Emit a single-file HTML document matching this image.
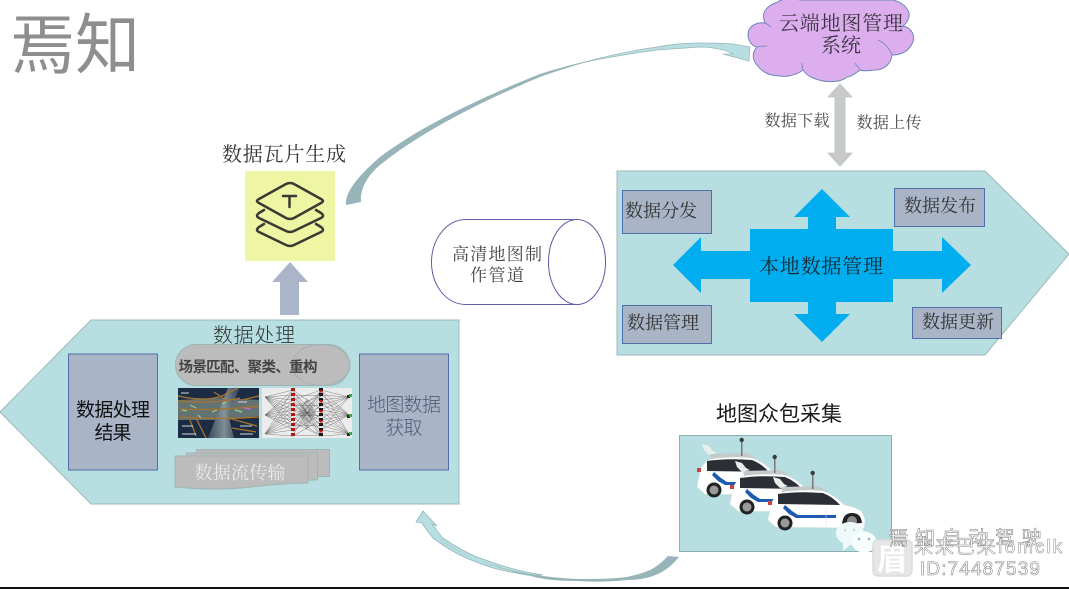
<!DOCTYPE html>
<html lang="zh">
<head>
<meta charset="utf-8">
<title>高精地图众包制作流程</title>
<style>
html,body{margin:0;padding:0;background:#fff;width:1069px;height:589px;overflow:hidden}
svg{display:block}
text{font-family:"Liberation Serif","Noto Serif CJK SC",serif;fill:#333;text-anchor:middle}
.s{font-family:"Liberation Sans","Noto Sans CJK SC",sans-serif}
</style>
</head>
<body>
<svg width="1069" height="589" viewBox="0 0 1069 589" xmlns="http://www.w3.org/2000/svg">
<defs>
<linearGradient id="road" x1="0" y1="0" x2="1" y2="0"><stop offset="0" stop-color="#3d5160"/><stop offset=".5" stop-color="#8b989e"/><stop offset="1" stop-color="#2b3f55"/></linearGradient>
<g id="car">
  <path d="M13 -3 L50 -4 L60 1 L14 2 Z" fill="#c4c9c9"/>
  <path d="M5 -13 L12 -11 L16 -6 L20 -4 L12 -2 L7 -7 Z" fill="#e8eded"/>
  <rect x="44" y="-16" width="1.500" height="15" fill="#777"/><circle cx="44.700" cy="-17" r="2.200" fill="#3a3a3a"/>
  <path d="M0 30 L3 15 Q6 5 14 2 Q35 -1 55 1 Q68 6 76 15 Q88 17 94 22 L97 30 L96 38 L8 37 Z" fill="#fff" stroke="#e2e8e8" stroke-width=".5"/>
  <path d="M10 4 L10 14 L72 15 Q65 7 55 3 Q30 1 10 4 Z" fill="#2b2f35"/>
  <rect x="0" y="11" width="4" height="4" fill="#c9443f"/>
  <path d="M17 15 L24 21 L30 25 L68 25 V28 L28 28 L21 24 L15 18 Z" fill="#1c5bb0"/>
  <path d="M58 18 V36" stroke="#dfe3e3" stroke-width=".6"/>
  <circle cx="17" cy="33" r="7.500" fill="#222"/><circle cx="17" cy="33" r="4.500" fill="#9a9a9a"/>
  <path d="M74 34 Q75 23 84 23 Q93 23 94 33 Z" fill="#222"/><circle cx="84" cy="31" r="5" fill="#8a8a8a"/>
</g>
</defs>

<rect width="1069" height="589" fill="#fff"/>
<rect x="0" y="587" width="1069" height="2" fill="#111"/>

<!-- top-left mark -->
<text x="75" y="68" font-size="66" style="fill:#8e8e8e;font-family:'Noto Sans CJK SC',sans-serif;font-weight:400" textLength="130" lengthAdjust="spacingAndGlyphs">焉知</text>

<!-- top curved arrow -->
<path d="M346 205 C345 196 351 182 380 157 C420 127 475 100 540 74 C562 67 585 61 607 57 C585 62 562 69 540 77 C475 104 420 133 380 165 C366 177 360 190 361 202 Z" fill="#97b5b8"/>
<path d="M585 62 C610 55 635 50 657 47 C672 44 686 43 700 43 C712 43 723 43 733 44 C739 45 745 46 750 47 L749 61 L723 54 L733 54 C730 52 726 51 723 50 C715 48 708 47 700 47 C686 48 672 49 657 50 C635 53 610 57 585 62 Z" fill="#b7dfe2" stroke="#97b5b8" stroke-width=".7"/>

<!-- bottom curved arrow -->
<path d="M423 511 L437 526 L432 524 C436 529 439 534 443 538 C453 545 465 552 477 557 C488 561 499 565 510 568 C520 571 530 573 543 575 L527 575 C515 573 504 571 493 568 C481 564 470 560 460 555 C450 550 441 544 433 538 C429 533 425 528 422 523 L416 522 Z" fill="#b7dfe2" stroke="#97b5b8" stroke-width=".8"/>
<path d="M438 537 C455 552 480 562 510 570 C530 575 555 578 577 579 C595 579 612 579 627 577 C636 575 643 573 650 570 C658 566 663 561 668 556 L679 557 C674 563 668 569 660 573 C650 578 640 580 627 580 C610 582 593 582 577 581 C555 581 540 579 527 575 C495 568 460 555 438 537 Z" fill="#97b5b8"/>

<!-- left panel -->
<polygon points="0,412 91,320 459,320 459,504 91,504" fill="#b7dfe2" stroke="#9db9bc" stroke-width="1"/>
<rect x="68.500" y="354" width="89" height="116" fill="#a9b4c7" stroke="#4f6fa8" stroke-width="1"/>
<rect x="359.500" y="354" width="89" height="116" fill="#a9b4c7" stroke="#4f6fa8" stroke-width="1"/>
<text x="113" y="416" font-size="19" style="fill:#111;font-family:'Noto Sans CJK SC',sans-serif;font-weight:400" textLength="74">数据处理</text>
<text x="113" y="439" font-size="19" style="fill:#111;font-family:'Noto Sans CJK SC',sans-serif;font-weight:400" textLength="37">结果</text>
<text x="404" y="411" font-size="19" style="fill:#4c5f78;font-family:'Noto Sans CJK SC',sans-serif;font-weight:300" textLength="74">地图数据</text>
<text x="404" y="434" font-size="19" style="fill:#4c5f78;font-family:'Noto Sans CJK SC',sans-serif;font-weight:300" textLength="37">获取</text>
<text x="254" y="342" font-size="20" style="fill:#333;font-family:'Noto Sans CJK SC',sans-serif;font-weight:300" textLength="82">数据处理</text>

<!-- capsule -->
<rect x="175.500" y="344.500" width="174" height="41" rx="20.500" fill="#bcbcbc" stroke="#9fb4b5"/>
<ellipse cx="321" cy="365" rx="29" ry="20.500" fill="none" stroke="#9fb4b5"/>
<text x="248" y="372" font-size="14.500" style="fill:#444;font-family:'Noto Sans CJK SC',sans-serif;font-weight:700" textLength="139">场景匹配、聚类、重构</text>

<!-- point cloud image -->
<rect x="178" y="388" width="81" height="50" fill="#1c2c44"/>
<path d="M178 400 L222 398 L259 400 L259 416 L224 420 L178 420 Z" fill="#76857f" opacity=".8"/>
<path d="M208 438 L228 388 L240 388 L228 414 L234 438 Z" fill="url(#road)" opacity=".9"/>
<path d="M178 396 Q205 402 222 396 L238 388 M242 400 L259 396 M178 401 Q215 404 240 398 M180 409 Q215 411 259 406 M180 417 Q220 420 259 417 M196 418 L206 438 M190 420 L196 436 M228 418 L257 426 M232 428 L256 432 M214 392 L226 400" stroke="#a8732c" stroke-width="1.300" fill="none"/>
<path d="M190 405 l6 3 M212 412 l5 -2 M235 410 l7 2 M198 415 l3 3 M182 410 l5 1 M222 404 l4 -2" stroke="#8fd08a" stroke-width="1.200"/>
<path d="M244 408 l7 1" stroke="#c86ac8" stroke-width="1.200"/>
<path d="M181 393 h8 M182 426 h11 M182 434 h14 M240 426 h12 M240 434 h13 M238 402 h9" stroke="#cfd6dc" stroke-width="1"/>

<!-- network image -->
<rect x="262" y="388" width="90" height="50" fill="#ececec"/>
<g stroke="#555" stroke-width=".35" fill="none">
<path d="M265 397 L293 390 M265 397 L293 395 M265 397 L293 400 M265 397 L293 405 M265 397 L293 410 M265 397 L293 415 M265 397 L293 420 M265 397 L293 425 M265 397 L293 430 M265 415 L293 390 M265 415 L293 395 M265 415 L293 400 M265 415 L293 405 M265 415 L293 410 M265 415 L293 415 M265 415 L293 420 M265 415 L293 425 M265 415 L293 430 M265 434 L293 390 M265 434 L293 400 M265 434 L293 405 M265 434 L293 410 M265 434 L293 415 M265 434 L293 420 M265 434 L293 425 M265 434 L293 430 M265 434 L293 436"/>
<path d="M293 390 L321 436 M293 395 L321 431 M293 400 L321 426 M293 405 L321 421 M293 410 L321 416 M293 415 L321 411 M293 420 L321 406 M293 425 L321 401 M293 430 L321 396 M293 435 L321 391 M293 390 L321 410 M293 400 L321 390 M293 410 L321 430 M293 420 L321 395 M293 430 L321 415 M293 436 L321 420 M293 395 L321 396 M293 405 L321 406 M293 415 L321 416 M293 425 L321 426 M293 435 L321 436 M293 392 L321 420 M293 402 L321 436 M293 412 L321 392 M293 422 L321 436 M293 432 L321 405 M293 397 L321 426 M293 407 L321 396 M293 417 L321 436 M293 427 L321 390"/>
<path d="M321 390 L349 397 M321 395 L349 397 M321 400 L349 397 M321 405 L349 397 M321 410 L349 397 M321 420 L349 397 M321 430 L349 397 M321 390 L349 415 M321 395 L349 415 M321 400 L349 415 M321 405 L349 415 M321 410 L349 415 M321 415 L349 415 M321 420 L349 415 M321 425 L349 415 M321 430 L349 415 M321 390 L349 434 M321 400 L349 434 M321 410 L349 434 M321 415 L349 434 M321 420 L349 434 M321 425 L349 434 M321 430 L349 434 M321 436 L349 434"/>
</g>
<path d="M307 398 L316 412 L307 430 L298 412 Z" fill="#333" opacity=".22"/>
<path d="M293 388 V438" stroke="#b01818" stroke-width="4" stroke-dasharray="3 2"/>
<path d="M321 388 V438" stroke="#1a1a1a" stroke-width="4" stroke-dasharray="3 2"/>
<path d="M321 390 V438" stroke="#c01818" stroke-width="3" stroke-dasharray="2.500 7.500"/>
<rect x="347" y="395" width="3" height="3" fill="#222"/><rect x="349" y="394" width="3" height="3" fill="#2bb52b"/>
<rect x="347" y="415" width="3" height="3" fill="#222"/><rect x="349" y="414" width="3" height="3" fill="#2bb52b"/>
<rect x="347" y="433" width="3" height="3" fill="#222"/><rect x="349" y="432" width="3" height="3" fill="#2bb52b"/>

<!-- document stack -->
<rect x="196.500" y="449.500" width="133" height="27" fill="#bcbcbc" stroke="#9fb4b5"/>
<rect x="186.500" y="453" width="131" height="27" fill="#bcbcbc" stroke="#9fb4b5"/>
<path d="M175 456 H308 V483 C270 483 245 490 210 489 C195 489 185 488 175 487 Z" fill="#bcbcbc" stroke="#9fb4b5"/>
<text x="240" y="479" font-size="18" style="fill:#e9e9e9" textLength="91">数据流传输</text>

<!-- up arrow -->
<polygon points="290,262 308,282 299,282 299,315 280,315 280,282 272,282" fill="#aab5c9"/>

<!-- tile box -->
<text x="284" y="161" font-size="20" style="fill:#333" textLength="124">数据瓦片生成</text>
<rect x="245" y="171" width="90" height="90" fill="#eef6a4"/>
<g fill="none" stroke="#3a3a34" stroke-width="2.500" stroke-linejoin="round" stroke-linecap="round">
<path d="M286 184 Q290 182 294 184 L321 199 Q325 201 321 203 L294 218 Q290 220 286 218 L259 203 Q255 201 259 199 Z"/>
<path d="M264 210 L259 213 Q255 216 259 218 L286 231 Q290 233 294 231 L321 218 Q325 216 321 213 L316 210"/>
<path d="M264 224 L259 227 Q255 230 259 232 L286 245 Q290 247 294 245 L321 232 Q325 230 321 227 L316 224"/>
<path d="M283 196 H296 M289.500 196 V207"/>
</g>

<!-- pipe -->
<path d="M577 219.500 H466 C446 219.500 431.500 240 431.500 262 C431.500 285 446 304.500 466 304.500 H577" fill="#fff" stroke="#5c5ca8" stroke-width="1"/>
<ellipse cx="577" cy="262" rx="28.500" ry="42.500" fill="#fff" stroke="#5c5ca8" stroke-width="1"/>
<text x="497" y="260" font-size="17" style="fill:#444" textLength="90">高清地图制</text>
<text x="497" y="281" font-size="17" style="fill:#444" textLength="54">作管道</text>

<!-- cloud -->
<path d="M765 23 C760 12 768 5 778 2 C782 -2 795 -2 800 0 L893 0 C905 3 912 12 908 20 C906 23 905 25 903 26 C912 28 916 36 912 44 C908 52 900 55 892 55 C891 64 884 70 875 70 C868 71 863 71 860 70 C855 74 850 77 847 77 C840 83 825 83 813 78 C808 76 805 73 803 70 C795 76 785 77 780 76 C770 76 762 72 757 65 C752 60 752 52 757 47 C748 45 746 33 750 28 C753 24 760 22 765 23 Z" fill="#dcaeee" stroke="#6f86b8" stroke-width="1"/>
<path d="M765 23 C767 24 769 25 771 27 M757 47 C760 46 763 46 767 46 M803 70 C802 67 802 65 802 63 M878 40 C885 43 890 49 892 55 M860 70 C858 67 856 65 855 63 M903 26 C902 28 900 30 898 32" fill="none" stroke="#6f86b8" stroke-width=".8"/>
<text x="841" y="30" font-size="20" style="fill:#3a3340" textLength="124">云端地图管理</text>
<text x="841" y="52" font-size="20" style="fill:#3a3340" textLength="40">系统</text>

<!-- double arrow -->
<polygon points="840,84 852,97 845,97 845,153 852,153 840,166 828,153 835,153 835,97 828,97" fill="#c9c9c9" stroke="#b5c6c6" stroke-width=".8"/>
<text x="797" y="126" font-size="16" style="fill:#4a4a4a" textLength="65">数据下载</text>
<text x="889" y="128" font-size="16" style="fill:#4a4a4a" textLength="65">数据上传</text>

<!-- right panel -->
<polygon points="617,171 985,171 1069,254 985,355 617,355" fill="#b7dfe2" stroke="#9db9bc" stroke-width="1"/>
<polygon points="822,189 850,217 836,217 836,229 893,229 893,251 942,251 942,237 971,265 942,293 942,279 893,279 893,302 836,302 836,314 850,314 822,342 794,314 808,314 808,302 750,302 750,279 701,279 701,293 673,265 701,237 701,251 750,251 750,229 808,229 808,217 794,217" fill="#00aeef"/>
<text x="821" y="273" font-size="20" style="fill:#1a2a33" textLength="124">本地数据管理</text>
<g fill="#a9b4c7" stroke="#4f6fa8" stroke-width="1">
<rect x="622.500" y="190.500" width="89" height="43"/>
<rect x="894.500" y="188.500" width="90" height="38"/>
<rect x="622.500" y="305.500" width="89" height="38"/>
<rect x="912.500" y="307.500" width="89" height="31"/>
</g>
<text x="661" y="217" font-size="18" textLength="72" style="fill:#333">数据分发</text>
<text x="940" y="212" font-size="18" textLength="72" style="fill:#333">数据发布</text>
<text x="663" y="329" font-size="18" textLength="72" style="fill:#333">数据管理</text>
<text x="958" y="328" font-size="18" textLength="72" style="fill:#333">数据更新</text>

<!-- crowd-sourced vehicles -->
<text x="779" y="421" font-size="21" style="fill:#1a1a1a;font-family:'Noto Sans CJK SC',sans-serif;font-weight:400" textLength="126">地图众包采集</text>
<rect x="679.500" y="435.500" width="212" height="116" fill="#b7dfe2" stroke="#8fb0b3"/>
<use href="#car" transform="translate(697,457)"/>
<use href="#car" transform="translate(730,474)"/>
<use href="#car" transform="translate(768,490)"/>

<!-- watermark -->
<path d="M850 522 C858 522 864 527 864 534 C864 541 857 546 850 545 L843 551 L843 543 C838 540 836 537 836 533 C836 527 842 522 850 522 Z" fill="#f0f9fa"/>
<ellipse cx="864" cy="542" rx="12.500" ry="10.500" fill="#f7fcfc"/>
<circle cx="859" cy="539" r="1.300" fill="#9bb7ba"/><circle cx="869" cy="539" r="1.300" fill="#9bb7ba"/>
<circle cx="845" cy="530" r="1.300" fill="#c5d8da"/><circle cx="854" cy="530" r="1.300" fill="#c5d8da"/>
<rect x="873" y="540" width="39" height="36" rx="5" fill="#e6e6e6" stroke="#dcdcdc" stroke-width="1.500"/>
<text class="s" x="892" y="570" font-size="30" style="fill:#fff;font-family:'Noto Sans CJK SC',sans-serif;font-weight:700">眉</text>
<text class="s" x="965" y="545" font-size="20" textLength="153" style="fill:#fff;stroke:#777;stroke-width:.5px;font-family:'Noto Sans CJK SC',sans-serif">焉知自动驾驶</text>
<text class="s" x="988" y="553" font-size="19" textLength="148" style="fill:#fff;stroke:#888;stroke-width:.5px;font-family:'Liberation Sans','Noto Sans CJK SC',sans-serif">来来巴来fomclk</text>
<text class="s" x="980" y="575" font-size="19" textLength="120" style="fill:#fff;stroke:#888;stroke-width:.6px;font-family:'Liberation Sans',sans-serif">ID:74487539</text>
</svg>
</body>
</html>
